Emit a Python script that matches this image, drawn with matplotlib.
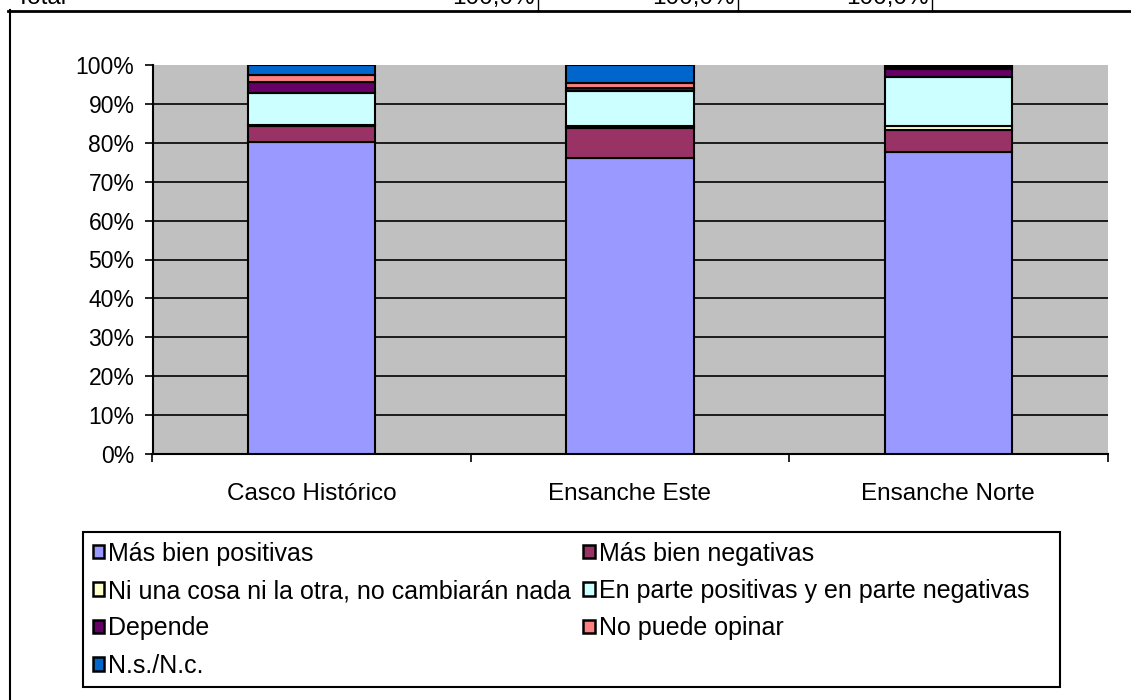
#!/usr/bin/env python3
"""Stacked 100% bars: opinion on changes by district."""

import matplotlib

matplotlib.use("Agg")
import matplotlib.pyplot as plt
import numpy as np
from matplotlib.lines import Line2D
from matplotlib.patches import Patch, Rectangle

plt.rcParams["font.family"] = ["Liberation Sans", "DejaVu Sans"]
plt.rcParams["font.size"] = 17

W, H = 1131, 700

districts = ["Casco Histórico", "Ensanche Este", "Ensanche Norte"]
series_names = [
    "Más bien positivas",
    "Más bien negativas",
    "Ni una cosa ni la otra, no cambiarán nada",
    "En parte positivas y en parte negativas",
    "Depende",
    "No puede opinar",
    "N.s./N.c.",
]
positivas = [80.2, 76.2, 77.7]
negativas = [4.0, 7.5, 5.5]
ni_una = [0.3, 0.6, 1.0]
en_parte = [8.2, 8.9, 12.6]
depende = [2.9, 1.0, 2.2]
no_puede = [1.9, 1.2, 0.4]
ns_nc = [2.5, 4.6, 0.6]
colors = ["#9999FF", "#993366", "#FFFFCC", "#CCFFFF", "#660066", "#FF8080", "#0066CC"]

total_labels = ["Total", "100,0%", "100,0%", "100,0%"]


def fx(px):
    return px / W


def fy(py):
    return 1 - py / H


fig = plt.figure(figsize=(W / 100, H / 100), dpi=100)
ax = fig.add_axes([fx(152.5), fy(454), fx(1107.5) - fx(152.5), fy(65) - fy(454)])
ax.set_facecolor("#C0C0C0")

series = [positivas, negativas, ni_una, en_parte, depende, no_puede, ns_nc]
x = np.arange(len(districts))
bottom = np.zeros(len(districts))
for name, vals, color in zip(series_names, series, colors):
    vals = np.array(vals)
    ax.bar(x, vals, 0.4, bottom=bottom, color=color, edgecolor="black",
           linewidth=1.5, zorder=3, label=name)
    bottom += vals

for yv in range(10, 100, 10):
    ax.axhline(yv, color="black", linewidth=1.2, zorder=1)

ax.set_xlim(-0.5, 2.5)
ax.set_ylim(0, 100)
ax.set_yticks(range(0, 101, 10))
ax.set_yticklabels([f"{v}%" for v in range(0, 101, 10)], fontsize=16.5)
ax.tick_params(axis="y", direction="out", length=6, width=1.2, pad=7)

ax.set_xticks([-0.5, 0.5, 1.5, 2.5])
ax.set_xticklabels([])
ax.tick_params(axis="x", which="major", direction="out", length=6, width=1.2)
ax.set_xticks(x, minor=True)
ax.set_xticklabels(districts, minor=True, fontsize=17.5)
ax.tick_params(axis="x", which="minor", length=0, pad=21)

for side in ["top", "right"]:
    ax.spines[side].set_visible(False)
for side in ["left", "bottom"]:
    ax.spines[side].set_linewidth(1.5)

# legend, laid out row-wise like the original (two columns)
handles = [Patch(facecolor=c, edgecolor="black", linewidth=1.8) for c in colors]
order = [0, 2, 4, 6, 1, 3, 5]
fig.legend([handles[i] for i in order], [series_names[i] for i in order],
           loc="upper left", bbox_to_anchor=(fx(80), fy(529)), ncol=2,
           frameon=False, borderpad=0, handlelength=0.46, handleheight=0.46,
           handletextpad=0.16, columnspacing=0.5, labelspacing=0.54,
           fontsize=18)
fig.add_artist(Rectangle((fx(83), fy(687)), fx(1060) - fx(83), fy(532) - fy(687),
                         transform=fig.transFigure, fill=False,
                         edgecolor="black", linewidth=1.5))

# chart frame and the clipped table row above it
fig.add_artist(Line2D([fx(10), fx(10)], [fy(10), fy(700)], color="black", linewidth=1.5))
fig.add_artist(Line2D([fx(8), fx(1131)], [fy(10.5), fy(10.5)], color="black", linewidth=2))
for xv in [538, 738, 932]:
    fig.add_artist(Line2D([fx(xv), fx(xv)], [fy(0), fy(10)], color="black", linewidth=1))
fig.text(fx(15), fy(4), total_labels[0], ha="left", va="baseline", fontsize=17.5)
for xr, lab in zip([535, 735, 929, 1137], total_labels[1:]):
    fig.text(fx(xr), fy(4), lab, ha="right", va="baseline", fontsize=17.5)

fig.savefig("out.png", dpi=100)
